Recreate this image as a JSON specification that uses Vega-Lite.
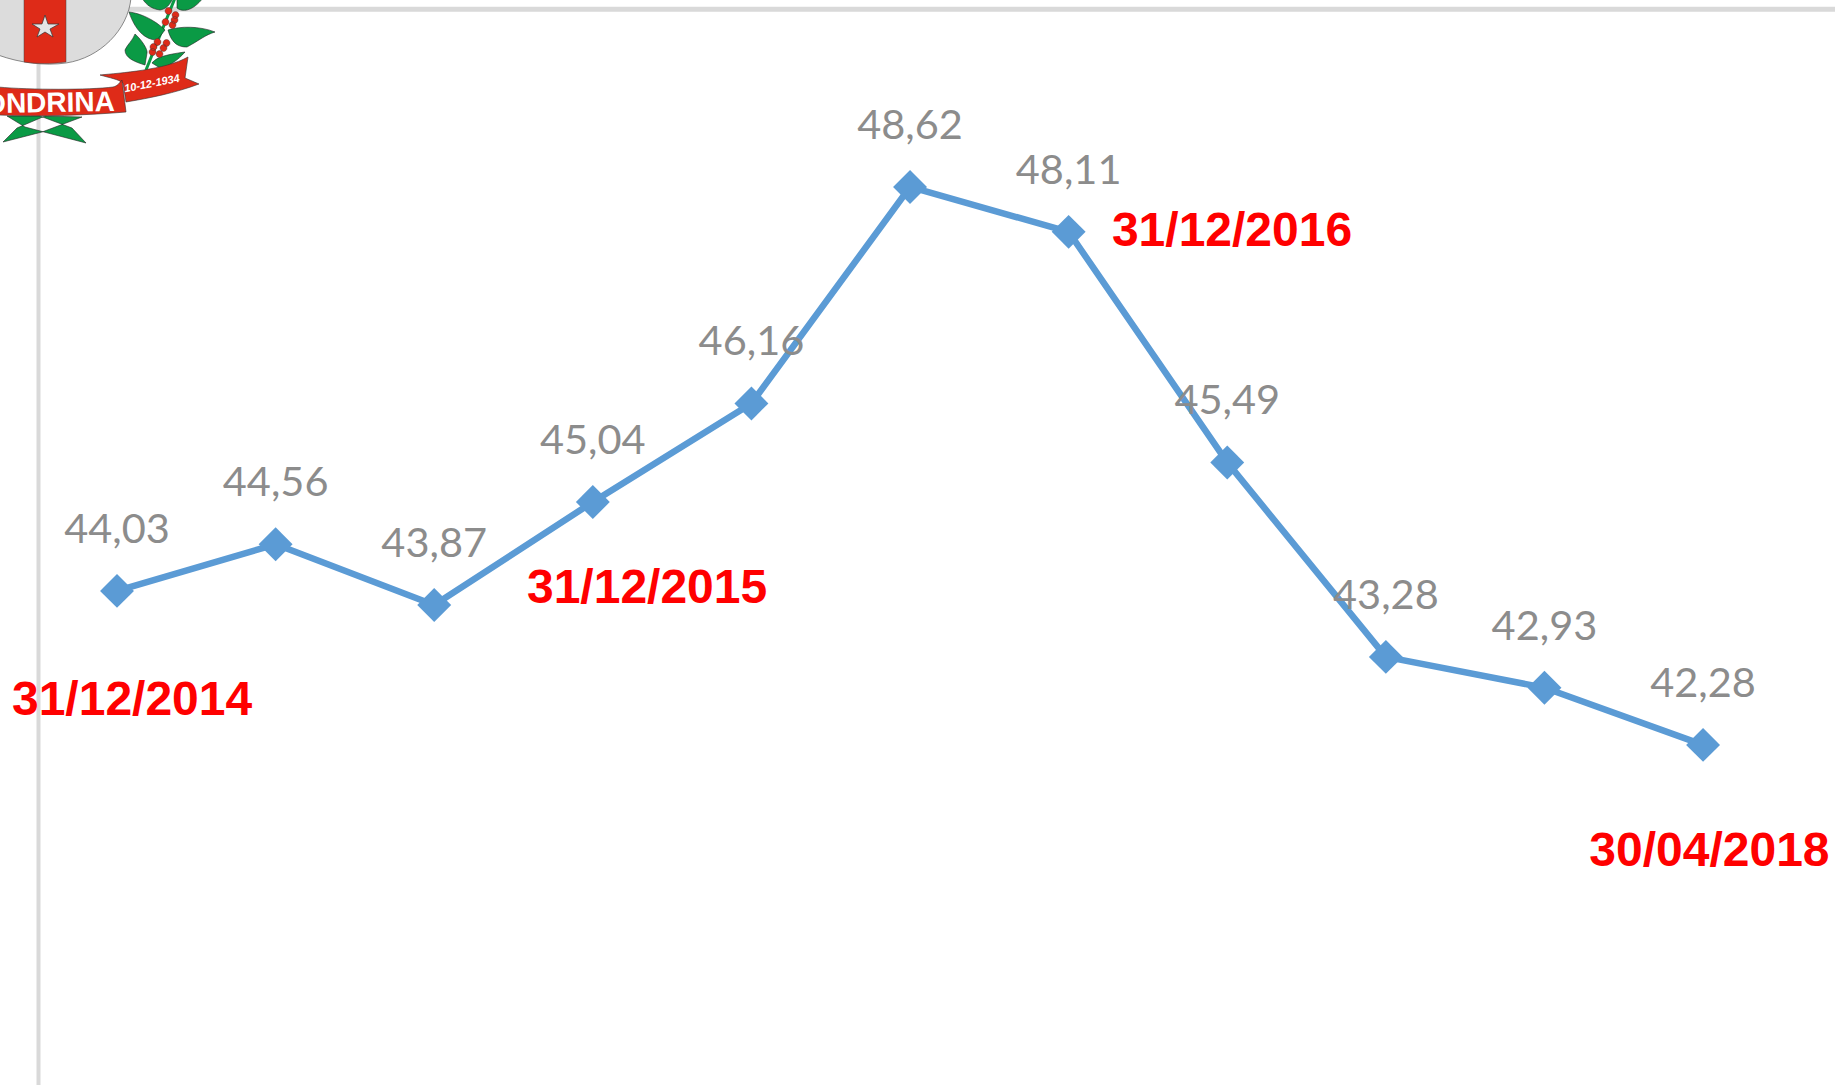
{"$schema":"https://vega.github.io/schema/vega-lite/v6.json","width":1835,"height":1085,"padding":0,"autosize":{"type":"none"},"background":"white","config":{"view":{"stroke":null}},
"datasets":{"series":[{"i":0,"v":44.03,"t":"44,03"},{"i":1,"v":44.56,"t":"44,56"},{"i":2,"v":43.87,"t":"43,87"},{"i":3,"v":45.04,"t":"45,04"},{"i":4,"v":46.16,"t":"46,16"},{"i":5,"v":48.62,"t":"48,62"},{"i":6,"v":48.11,"t":"48,11"},{"i":7,"v":45.49,"t":"45,49"},{"i":8,"v":43.28,"t":"43,28"},{"i":9,"v":42.93,"t":"42,93"},{"i":10,"v":42.28,"t":"42,28"}],
"dates":[{"date":"31/12/2014","i":0.095,"v":42.62},{"date":"31/12/2015","i":3.342,"v":43.89},{"date":"31/12/2016","i":7.03,"v":47.95},{"date":"30/04/2018","i":10.04,"v":40.9}]},
"data":{"name":"series"},
"encoding":{"x":{"field":"i","type":"quantitative","axis":null,"scale":{"domain":[-0.7377,10.8318],"nice":false,"zero":false}},"y":{"field":"v","type":"quantitative","axis":null,"scale":{"domain":[38.415,50.745],"nice":false,"zero":false}}},
"layer":[
{"transform":[{"filter":"datum.i===0"}],"mark":{"type":"rule","color":"#d9d9d9","strokeWidth":4},"encoding":{"x":{"datum":-0.495},"y":{"datum":50.64},"y2":{"datum":38.415}}},
{"transform":[{"filter":"datum.i===0"}],"mark":{"type":"rule","color":"#d9d9d9","strokeWidth":5},"encoding":{"y":{"datum":50.64},"x":{"datum":-0.495},"x2":{"datum":10.8318}}},
{"mark":{"type":"line","color":"#5b9bd5","strokeWidth":6.5,"strokeJoin":"round"}},
{"mark":{"type":"point","shape":"diamond","filled":true,"color":"#5b9bd5","opacity":1,"size":1150}},
{"mark":{"type":"text","font":"Lato","fontSize":41.5,"color":"#8c8c8c","align":"center","baseline":"alphabetic","dy":-48},"encoding":{"text":{"field":"t"}}},
{"data":{"name":"dates"},"mark":{"type":"text","font":"Liberation Sans","fontWeight":"bold","fontSize":48,"color":"#ff0000","align":"center","baseline":"alphabetic"},"encoding":{"text":{"field":"date"}}},
{"transform":[{"filter":"datum.i===0"}],"encoding":{"x":{"datum":-0.7377},"y":{"datum":50.745}},"layer":[
{"mark":{"type":"point","size":4,"filled":true,"opacity":1,"color":"#dcdcdc","stroke":"#444444","strokeWidth":0.6,"shape":"M-2 -2L131 -2C128 30 100 58 66 63C45 66 20 63 -2 55Z"}},
{"mark":{"type":"point","size":4,"filled":true,"opacity":1,"color":"#de2b18","stroke":"#444444","strokeWidth":0.5,"shape":"M24 -2L66 -2L66 62C50 64 38 64 24 62Z"}},
{"mark":{"type":"point","size":4,"filled":true,"opacity":1,"color":"#e4e4e4","stroke":"#333333","strokeWidth":0.7,"shape":"M45 15L48 24L59 24L50 29L53 37L45 32L37 37L40 29L32 24L42 24Z"}},
{"mark":{"type":"point","size":4,"filled":false,"opacity":1,"color":"#0a9a45","strokeWidth":3,"shape":"M146 70L175 -2"}},
{"mark":{"type":"point","size":4,"filled":true,"opacity":1,"color":"#0a9a45","stroke":"#222222","strokeWidth":0.6,"shape":"M129 12C140 13 155 20 165 30L157 40C145 40 135 30 129 12ZM168 30C180 26 200 26 215 32C205 35 200 40 187 47C180 47 172 45 168 30ZM135 34C142 40 148 50 147 53L145 65C135 62 125 58 125 50C127 45 133 40 135 34ZM142 -2C146 5 152 9 160 10C166 9 170 5 173 -2ZM177 -2L177 8C182 12 192 12 203 -2ZM152 63C156 58 163 55 185 52C178 60 170 66 160 68Z"}},
{"mark":{"type":"point","size":4,"filled":true,"opacity":1,"color":"#de2b18","stroke":"#333333","strokeWidth":0.4,"shape":"M165 11a3.5 3.5 0 1 0 7 0a3.5 3.5 0 1 0 -7 0ZM172 15a3.5 3.5 0 1 0 7 0a3.5 3.5 0 1 0 -7 0ZM162 22a3.5 3.5 0 1 0 7 0a3.5 3.5 0 1 0 -7 0ZM171 20a3.5 3.5 0 1 0 7 0a3.5 3.5 0 1 0 -7 0ZM169 25a3.5 3.5 0 1 0 7 0a3.5 3.5 0 1 0 -7 0ZM154 42a3.5 3.5 0 1 0 7 0a3.5 3.5 0 1 0 -7 0ZM163 43a3.5 3.5 0 1 0 7 0a3.5 3.5 0 1 0 -7 0ZM150 47a3.5 3.5 0 1 0 7 0a3.5 3.5 0 1 0 -7 0ZM160 48a3.5 3.5 0 1 0 7 0a3.5 3.5 0 1 0 -7 0ZM149 52a3.5 3.5 0 1 0 7 0a3.5 3.5 0 1 0 -7 0ZM156 54a3.5 3.5 0 1 0 7 0a3.5 3.5 0 1 0 -7 0Z"}},
{"mark":{"type":"point","size":4,"filled":true,"opacity":1,"color":"#0a9a45","stroke":"#222222","strokeWidth":0.6,"shape":"M3 142L17 128L45 116L82 117L42 132ZM7 116L25 127L86 143L72 128L40 116Z"}},
{"mark":{"type":"point","size":4,"filled":true,"opacity":1,"color":"#de2b18","stroke":"#333333","strokeWidth":0.6,"shape":"M100 75C120 73 165 70 188 57L185 78L199 84C175 93 150 98 126 102L123 83C118 79 110 78 100 75Z"}},
{"mark":{"type":"point","size":4,"filled":true,"opacity":1,"color":"#de2b18","stroke":"#333333","strokeWidth":0.6,"shape":"M-2 87C30 90 90 90 113 87C118 86 120 82 122 80L126 112C90 115 40 117 -2 115Z"}}
]},
{"transform":[{"filter":"datum.i===0"}],"mark":{"type":"text","text":"ONDRINA","font":"Liberation Sans","fontWeight":"bold","fontSize":28,"color":"white","align":"right","baseline":"alphabetic","angle":-1},"encoding":{"x":{"datum":-0.0126},"y":{"datum":49.485}}},
{"transform":[{"filter":"datum.i===0"}],"mark":{"type":"text","text":"10-12-1934","font":"Liberation Sans","fontWeight":"bold","fontStyle":"italic","fontSize":11,"color":"white","align":"center","baseline":"middle","angle":-11},"encoding":{"x":{"datum":0.2207},"y":{"datum":49.79}}}
]}
